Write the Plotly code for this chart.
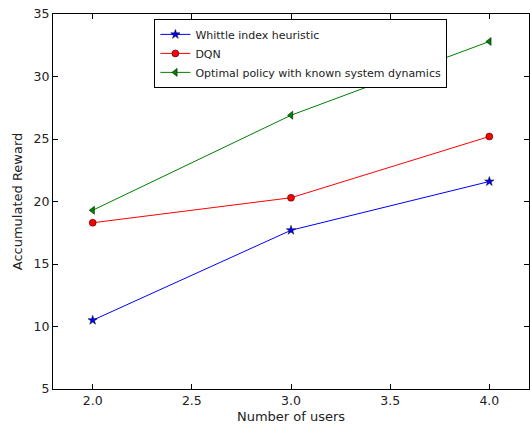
import plotly.graph_objects as go

users = [2.0, 3.0, 4.0]
whittle = [10.5, 17.7, 21.6]
dqn = [18.3, 20.3, 25.2]
optimal = [19.3, 26.9, 32.8]

fig = go.Figure()
fig.add_trace(go.Scatter(x=users, y=whittle, mode="lines+markers", name="Whittle index heuristic",
                         line=dict(color="#0000ff", width=1),
                         marker=dict(symbol="star", size=7, color="#0000ff", line=dict(color="black", width=0.5))))
fig.add_trace(go.Scatter(x=users, y=dqn, mode="lines+markers", name="DQN",
                         line=dict(color="#ff0000", width=1),
                         marker=dict(symbol="circle", size=7, color="#ff0000", line=dict(color="black", width=0.5))))
fig.add_trace(go.Scatter(x=users, y=optimal, mode="lines+markers", name="Optimal policy with known system dynamics",
                         line=dict(color="#008000", width=1),
                         marker=dict(symbol="triangle-left", size=7, color="#008000", line=dict(color="black", width=0.5))))

axis_common = dict(showgrid=False, zeroline=False, showline=True, linecolor="black", linewidth=1,
                   mirror="ticks", ticks="inside", ticklen=5, tickcolor="black",
                   tickfont=dict(family="DejaVu Sans", size=12.5, color="#222"))
fig.update_xaxes(range=[1.8, 4.2], dtick=0.5, tickformat=".1f",
                 title=dict(text="Number of users", font=dict(family="DejaVu Sans", size=13, color="#222"), standoff=4),
                 **axis_common)
fig.update_yaxes(range=[5, 35], dtick=5,
                 title=dict(text="Accumulated Reward", font=dict(family="DejaVu Sans", size=13, color="#222"), standoff=8),
                 **axis_common)

fig.update_layout(
    width=530, height=428,
    margin=dict(l=53, r=1, t=14, b=39),
    paper_bgcolor="white", plot_bgcolor="white",
    font=dict(family="DejaVu Sans", size=11, color="#222"),
    legend=dict(x=0.213, y=0.987, xanchor="left", yanchor="top",
                bordercolor="black", borderwidth=1, bgcolor="white",
                font=dict(family="DejaVu Sans", size=11, color="#222"),
                tracegroupgap=0, itemwidth=30),
    showlegend=True,
)

fig.write_html("out.html", config={"displayModeBar": False},
               post_script="document.body.style.margin='0';document.body.style.overflow='hidden';")
